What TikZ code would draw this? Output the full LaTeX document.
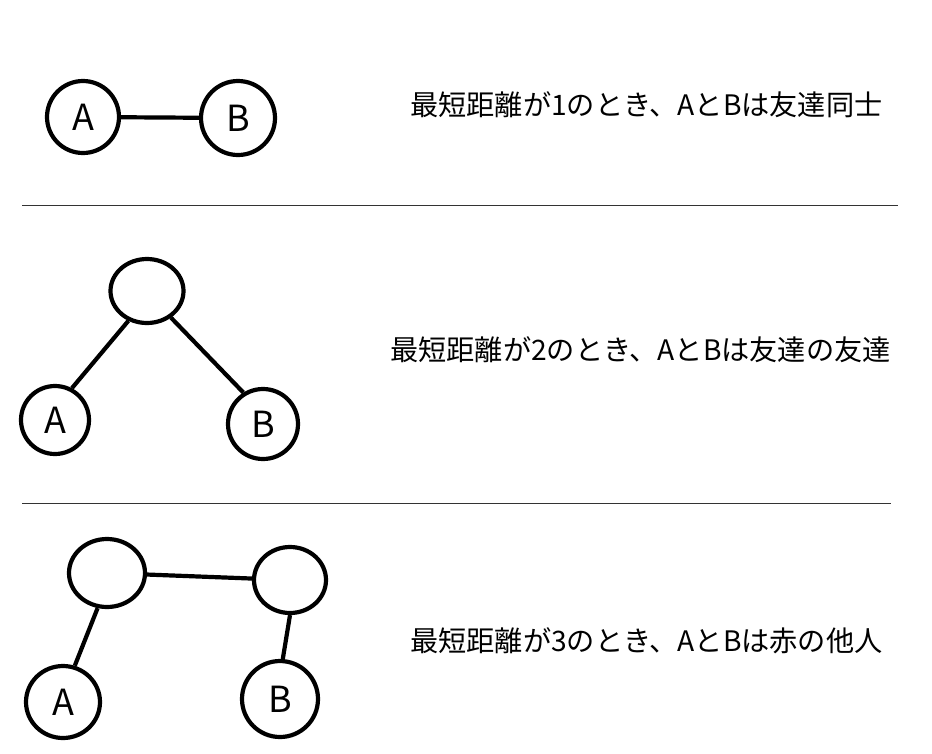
\documentclass[tikz,border=0pt]{standalone}
\usepackage{fontspec}
\setmainfont{Noto Sans CJK JP}
\usetikzlibrary{shapes.geometric, positioning}

\begin{document}
\begin{tikzpicture}[
    x=1pt, y=-1pt,
    person/.style={ellipse, draw, line width=4.2pt, inner sep=0pt, font=\fontsize{36}{36}\selectfont},
    link/.style={line width=4.2pt},
    sep/.style={draw=black!80, line width=0.9pt},
    caption/.style={anchor=west, inner sep=0pt, font=\fontsize{28.2}{30}\selectfont},
]
    \useasboundingbox (0,0) rectangle (932,753);

    % Distance 1
    \node[person, minimum width=72pt, minimum height=72pt] (a1) at (83,117) {A};
    \node[person, minimum width=74pt, minimum height=74pt] (b1) at (238,118) {B};
    \draw[link] (a1) -- (b1);
    \node[caption] (t1) at (410,105) {最短距離が1のとき、AとBは友達同士};

    % Separator
    \coordinate (s1l) at (22,205);
    \coordinate (s1r) at (898,205);
    \draw[sep] (s1l) -- (s1r);

    % Distance 2
    \node[person, minimum width=73pt, minimum height=64pt] (m2) at (147,291) {};
    \node[person, minimum width=68pt, minimum height=68pt] (a2) at (55,420) {A};
    \node[person, minimum width=70pt, minimum height=70pt] (b2) at (263,424) {B};
    \draw[link] (m2.-122) -- (a2.62);
    \draw[link] (m2.-48) -- (b2.122);
    \node[caption] (t2) at (390,350) {最短距離が2のとき、AとBは友達の友達};

    % Separator
    \coordinate (s2l) at (22,503);
    \coordinate (s2r) at (891,503);
    \draw[sep] (s2l) -- (s2r);

    % Distance 3
    \node[person, minimum width=76pt, minimum height=68pt] (m3l) at (107,573) {};
    \node[person, minimum width=72pt, minimum height=66pt] (m3r) at (290,580) {};
    \node[person, minimum width=74pt, minimum height=72pt] (a3) at (63,702) {A};
    \node[person, minimum width=76pt, minimum height=76pt] (b3) at (280,699) {B};
    \draw[link] (m3l) -- (m3r);
    \draw[link] (m3l.-105) -- (a3.72);
    \draw[link] (m3r.-90) -- (b3.86);
    \node[caption] (t3) at (410,641) {最短距離が3のとき、AとBは赤の他人};

\end{tikzpicture}
\end{document}
